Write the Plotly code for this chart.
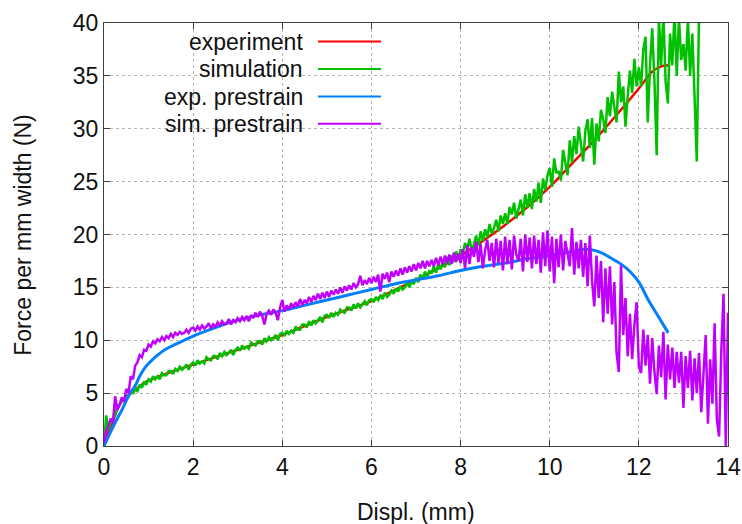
import plotly.graph_objects as go

# ---------------- data ----------------
exp_x = [0, 0.05, 0.1, 0.2, 0.3, 0.4, 0.5, 0.6, 0.7, 0.8, 0.9, 1.0, 1.25, 1.5, 2.0, 2.5,
         3.0, 3.5, 4.0, 4.5, 5.0, 5.5, 6.0, 6.5, 7.0, 7.5, 8.0, 8.5, 9.0, 9.5, 10.0,
         10.5, 11.0, 11.5, 12.0, 12.3, 12.5, 12.7]
exp_y = [0, 0.7, 1.3, 2.3, 3.5, 4.2, 4.6, 4.95, 5.3, 5.65, 5.95, 6.2, 6.6, 7.0, 7.7, 8.4,
         9.1, 9.8, 10.5, 11.35, 12.2, 12.95, 13.7, 14.7, 15.7, 16.8, 18.0, 19.4, 20.9,
         22.6, 24.5, 26.7, 28.9, 31.3, 33.8, 35.4, 35.9, 36.0]

sim_start = 0.0
sim_step = 0.05
sim_y = [
    0.0, 2.9, 1.5, 2.2, 2.6, 2.9, 3.8, 3.9, 4.4, 4.3, 4.8, 4.7, 5.1, 5.0, 5.4, 5.2, 5.8, 5.5, 6.1, 5.8, 6.3,
    6.1, 6.6, 6.3, 6.6, 6.3, 6.9, 6.7, 6.7, 7.1, 7.1, 6.8, 7.3, 7.1, 7.5, 7.2, 7.4, 7.7, 7.2, 7.7, 7.9,
    7.6, 8.1, 7.8, 8.0, 7.8, 8.4, 8.2, 8.1, 8.5, 8.5, 8.2, 8.8, 8.5, 8.9, 8.6, 8.8, 9.1, 8.6, 9.1, 9.3,
    9.0, 9.5, 9.2, 9.4, 9.2, 9.8, 9.6, 9.5, 9.9, 9.9, 9.6, 10.2, 9.9, 10.3, 10.0, 10.2, 10.5, 10.0, 10.6, 10.7,
    10.4, 10.9, 10.6, 10.9, 10.7, 11.3, 11.0, 11.0, 11.5, 11.5, 11.2, 11.8, 11.4, 11.9, 11.6, 11.9, 12.2, 11.7, 12.3, 12.4,
    12.1, 12.6, 12.2, 12.6, 12.4, 12.9, 12.7, 12.6, 13.1, 13.1, 12.8, 13.4, 13.0, 13.5, 13.1, 13.4, 13.7, 13.3, 13.8, 13.9,
    13.6, 14.1, 13.8, 14.2, 13.9, 14.5, 14.1, 14.3, 14.7, 14.4, 14.9, 14.6, 15.1, 14.8, 15.0, 15.5, 15.0, 15.6, 15.3, 15.9,
    15.5, 16.2, 15.8, 16.5, 16.0, 16.6, 16.3, 17.0, 16.4, 17.2, 16.7, 17.5, 16.9, 17.9, 17.1, 18.0, 17.4, 18.4, 17.6, 18.6,
    18.2, 19.2, 18.6, 19.6, 18.4, 19.1, 19.9, 18.9, 20.3, 19.4, 20.5, 19.7, 21.0, 20.1, 20.6, 21.4, 20.3, 21.8, 21.0, 22.0,
    21.0, 22.6, 21.9, 23.0, 21.5, 22.4, 23.3, 21.8, 23.8, 22.5, 23.9, 22.4, 24.3, 23.1, 24.9, 23.0, 25.3, 24.2, 25.6, 26.3,
    24.5, 27.2, 25.8, 26.0, 25.1, 28.0, 26.9, 25.6, 28.9, 26.8, 29.3, 27.6, 30.2, 28.4, 26.9, 29.8, 30.9, 28.2, 31.0, 26.6,
    30.5, 28.8, 31.8, 30.9, 29.6, 33.0, 31.2, 33.5, 32.0, 30.6, 35.4, 32.5, 34.0, 30.2, 33.1, 35.5, 33.4, 36.6, 34.0, 35.8,
    34.0, 37.5, 38.7, 30.6, 36.0, 39.5, 34.5, 27.5, 40.5, 36.0, 41.0, 34.5, 32.4, 39.0, 36.0, 41.0, 35.0, 40.5, 36.5, 38.0,
    35.5, 40.5, 35.0, 39.0, 33.0, 26.9, 41.0,
]

pre_x = [0, 0.1, 0.2, 0.3, 0.4, 0.5, 0.6, 0.7, 0.8, 0.9, 1.0, 1.2, 1.4, 1.6, 1.8, 2.0, 2.5,
         3.0, 3.5, 4.0, 4.5, 5.0, 5.5, 6.0, 6.5, 7.0, 7.5, 8.0, 8.5, 9.0, 9.5, 10.0, 10.5,
         10.8, 11.0, 11.2, 11.4, 11.6, 11.8, 12.0, 12.2, 12.4, 12.66]
pre_y = [0, 0.9, 1.8, 2.6, 3.4, 4.3, 5.1, 5.7, 6.6, 7.3, 7.8, 8.6, 9.2, 9.6, 10.0, 10.4,
         11.2, 11.9, 12.4, 12.8, 13.3, 13.8, 14.3, 14.8, 15.3, 15.7, 16.1, 16.6, 17.0, 17.3,
         17.7, 18.0, 18.4, 18.6, 18.5, 18.2, 17.7, 17.2, 16.5, 15.5, 13.9, 12.5, 10.7]

simpre_start = 0.0
simpre_step = 0.05
simpre_y = [
    0.3, 1.4, 1.9, 2.6, 2.2, 4.7, 3.4, 3.9, 4.6, 4.2, 5.4, 5.0, 6.6, 6.3, 7.6, 7.9, 8.6, 8.4, 9.1, 9.0, 9.6,
    9.4, 9.9, 9.7, 10.1, 9.9, 10.3, 10.0, 10.4, 10.2, 10.6, 10.3, 10.7, 10.5, 10.8, 10.6, 10.7, 11.0, 10.7, 11.1, 11.2,
    10.9, 11.3, 11.0, 11.4, 11.1, 11.3, 11.6, 11.1, 11.5, 11.3, 11.7, 11.4, 11.8, 11.5, 11.6, 12.0, 11.5, 11.9, 11.7, 12.1,
    11.8, 12.2, 11.9, 12.3, 11.8, 12.4, 12.1, 12.6, 12.2, 12.7, 12.3, 11.5, 12.5, 12.8, 12.4, 12.9, 12.6, 11.9, 13.1, 13.8,
    12.7, 13.3, 12.9, 13.5, 13.1, 13.6, 13.2, 13.9, 13.3, 13.8, 13.5, 14.1, 13.6, 14.2, 13.8, 14.4, 13.9, 14.5, 14.0, 14.6,
    14.1, 14.7, 14.3, 14.8, 14.4, 15.0, 14.5, 15.1, 14.7, 15.2, 14.8, 15.4, 15.0, 15.3, 16.1, 15.2, 15.7, 15.3, 15.9, 15.4,
    16.0, 15.5, 16.2, 14.6, 16.3, 15.8, 16.4, 15.5, 16.5, 16.0, 16.6, 16.1, 16.8, 16.2, 16.9, 16.4, 17.0, 16.5, 17.2, 16.6,
    17.3, 16.8, 17.5, 16.8, 17.5, 17.0, 17.6, 17.0, 17.8, 17.1, 17.9, 17.2, 18.0, 17.3, 18.1, 17.2, 18.3, 17.4, 18.2, 17.3,
    18.6, 16.8, 19.0, 17.2, 18.8, 17.9, 19.3, 17.4, 19.1, 16.8, 18.5, 19.5, 17.5, 19.2, 16.9, 19.6, 17.3, 19.4, 16.6, 19.8,
    17.2, 19.5, 16.7, 19.9, 18.1, 17.5, 19.6, 16.5, 20.0, 17.4, 19.7, 16.8, 19.9, 17.2, 19.5, 16.4, 20.2, 17.0, 20.4, 16.5,
    19.8, 15.4, 19.6, 16.9, 20.0, 16.6, 19.4, 18.2, 17.0, 20.6, 16.2, 19.3, 16.8, 19.5, 16.0, 19.2, 15.1, 19.9, 15.6, 13.2,
    18.0, 14.0, 17.5, 11.7, 16.8, 12.5, 17.0, 11.5, 15.5, 8.8, 7.0, 17.1, 10.5, 14.0, 8.5, 12.5, 8.2, 11.5, 13.6, 7.5,
    6.9, 11.0, 7.6, 10.5, 5.9, 10.2, 7.0, 4.9, 9.5, 6.5, 10.8, 4.4, 9.6, 6.3, 9.3, 5.5, 8.9, 6.0, 8.9, 3.6,
    8.5, 5.5, 9.0, 4.3, 8.3, 5.0, 8.8, 3.2, 7.5, 10.5, 2.1, 8.2, 4.0, 11.6, 2.5, 0.9, 9.0, 14.4, 0.0, 12.6,
]

series_names = ["experiment", "simulation", "exp. prestrain", "sim. prestrain"]
series_colors = ["#ff0000", "#00c000", "#0080ff", "#c000ff"]

x_ticks = [0, 2, 4, 6, 8, 10, 12, 14]
y_ticks = [0, 5, 10, 15, 20, 25, 30, 35, 40]

x_title = "Displ. (mm)"
y_title = "Force per mm width (N)"

FONT = "Liberation Sans, Arial, sans-serif"
FS = 23
TXT = "#111111"

# ---------------- figure ----------------
fig = go.Figure()
fig.add_trace(go.Scatter(x=exp_x, y=exp_y, mode="lines", name=series_names[0],
                         line=dict(color=series_colors[0], width=2.5, shape="spline"), showlegend=False))
fig.add_trace(go.Scatter(y=sim_y, x0=sim_start, dx=sim_step, mode="lines", name=series_names[1],
                         line=dict(color=series_colors[1], width=2.5), showlegend=False))
fig.add_trace(go.Scatter(x=pre_x, y=pre_y, mode="lines", name=series_names[2],
                         line=dict(color=series_colors[2], width=3, shape="spline"), showlegend=False))
fig.add_trace(go.Scatter(y=simpre_y, x0=simpre_start, dx=simpre_step, mode="lines", name=series_names[3],
                         line=dict(color=series_colors[3], width=2.5), showlegend=False))

# manual gnuplot-style key: white box hiding the grid, text right-aligned, sample to the right
shapes = [dict(type="rect", xref="paper", yref="paper", x0=0.026, x1=0.46, y0=0.737, y1=0.995,
               fillcolor="white", line=dict(width=0), layer="between")]
annotations = []
row_y = [0.956, 0.891, 0.826, 0.762]
for name, col, yy in zip(series_names, series_colors, row_y):
    annotations.append(dict(text=name, xref="paper", yref="paper", x=0.322, y=yy,
                            xanchor="right", yanchor="middle", showarrow=False,
                            font=dict(family=FONT, size=FS, color=TXT)))
    shapes.append(dict(type="line", xref="paper", yref="paper", x0=0.343, x1=0.444, y0=yy, y1=yy,
                       line=dict(color=col, width=2), layer="above"))

# axis titles
annotations.append(dict(text=x_title, xref="paper", yref="paper", x=0.5, y=-0.156,
                        xanchor="center", yanchor="middle", showarrow=False,
                        font=dict(family=FONT, size=FS, color=TXT)))
annotations.append(dict(text=y_title, xref="paper", yref="paper", x=-0.131, y=0.50,
                        xanchor="center", yanchor="middle", showarrow=False, textangle=-90,
                        font=dict(family=FONT, size=FS, color=TXT)))

axis_common = dict(
    showline=True, linecolor="#404040", linewidth=1, mirror="ticks",
    ticks="inside", ticklen=6, tickcolor="#404040", tickwidth=1,
    showgrid=True, gridcolor="#b4b4b4", griddash="dot", gridwidth=1,
    zeroline=False, automargin=False, tickfont=dict(family=FONT, size=FS, color=TXT),
)

fig.update_xaxes(range=[0, 14], tickvals=x_ticks, ticktext=[str(v) for v in x_ticks], **axis_common)
fig.update_yaxes(range=[0, 40], tickvals=y_ticks, ticktext=[str(v) for v in y_ticks], **axis_common)

fig.update_layout(
    width=742, height=524,
    margin=dict(l=104, r=14, t=23, b=78),
    plot_bgcolor="white", paper_bgcolor="white",
    shapes=shapes, annotations=annotations,
    showlegend=False,
)

fig.write_html("out.html", config={"displayModeBar": False},
               post_script="document.body.style.margin='0';document.body.style.overflow='hidden';")
